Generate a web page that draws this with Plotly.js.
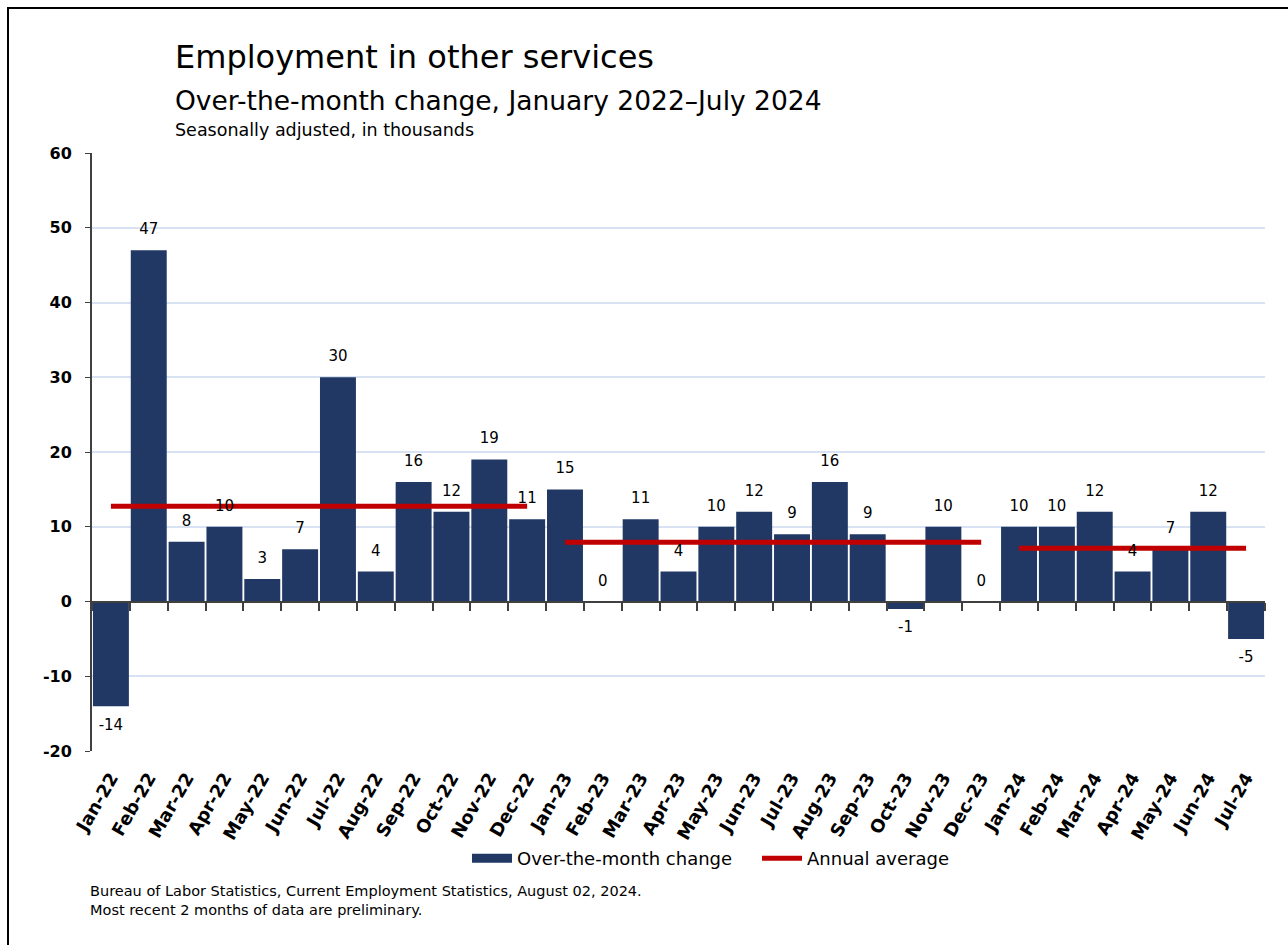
<!DOCTYPE html>
<html>
<head>
<meta charset="utf-8">
<script src="https://cdn.plot.ly/plotly-3.0.1.min.js"></script>
<style>
  html, body { margin: 0; padding: 0; background: #fff; }
  #chart { width: 1288px; height: 945px; }
  #frame { position: absolute; left: 7px; top: 7px; width: 1400px; height: 1100px;
           border-left: 2px solid #000; border-top: 2px solid #000; pointer-events: none; }
</style>
</head>
<body>
<div id="chart"></div>
<div id="frame"></div>
<script>
const months = ["Jan-22","Feb-22","Mar-22","Apr-22","May-22","Jun-22","Jul-22","Aug-22","Sep-22","Oct-22","Nov-22","Dec-22",
                "Jan-23","Feb-23","Mar-23","Apr-23","May-23","Jun-23","Jul-23","Aug-23","Sep-23","Oct-23","Nov-23","Dec-23",
                "Jan-24","Feb-24","Mar-24","Apr-24","May-24","Jun-24","Jul-24"];
const changes = [-14,47,8,10,3,7,30,4,16,12,19,11,
                 15,0,11,4,10,12,9,16,9,-1,10,0,
                 10,10,12,4,7,12,-5];
const yearStart = ["Jan-22","Jan-23","Jan-24"];
const yearEnd = ["Dec-22","Dec-23","Jul-24"];
const annualAvg = [12.75, 7.92, 7.14];
const yTicks = [-20,-10,0,10,20,30,40,50,60];

const SANS = "'DejaVu Sans', sans-serif";
const NAVY = '#213864';
const RED = '#c00000';
const yMin = -20, yMax = 60;

const traces = [];
// legend swatch for the bars (wide rectangle); drawn on a hidden axis so only the legend shows
traces.push({type: 'scatter', mode: 'lines', x: months, y: changes, yaxis: 'y3',
             name: 'Over-the-month change', line: {color: NAVY, width: 9}, hoverinfo: 'skip'});
traces.push({
  type: 'bar', x: months, y: changes, name: 'Over-the-month change', showlegend: false,
  marker: {color: NAVY}, hoverinfo: 'x+y'
});
for (let i = 0; i < annualAvg.length; i++) {
  traces.push({
    type: 'scatter', mode: 'lines', x: [yearStart[i], yearEnd[i]], y: [annualAvg[i], annualAvg[i]],
    name: 'Annual average', legendgroup: 'avg', showlegend: i === 0,
    line: {color: RED, width: 5}
  });
}
// value labels
traces.push({
  type: 'scatter', mode: 'markers+text', x: months, y: changes, showlegend: false, hoverinfo: 'skip',
  marker: {size: 18, opacity: 0, color: NAVY},
  text: changes.map(String),
  textposition: changes.map(v => v < 0 ? 'bottom center' : 'top center'),
  textfont: {family: SANS, size: 15, color: '#000'}, cliponaxis: false
});
// axis at zero with boundary ticks
traces.push({type: 'scatter', mode: 'none', x: months, y: changes, xaxis: 'x2',
             showlegend: false, hoverinfo: 'skip'});

const layout = {
  width: 1288, height: 945,
  margin: {l: 92, r: 23, t: 153, b: 194},
  paper_bgcolor: '#fff', plot_bgcolor: '#fff',
  font: {family: SANS, color: '#000'},
  bargap: 0.05,
  showlegend: true,
  legend: {orientation: 'h', x: 0.3197, xanchor: 'left', y: -0.18, yanchor: 'middle',
           font: {family: SANS, size: 18}, traceorder: 'normal', itemwidth: 40,
           entrywidth: 235, entrywidthmode: 'pixels'},
  xaxis: {type: 'category', range: [-0.5, months.length - 0.5], tickangle: -60,
          showline: false, showgrid: false, ticks: '', zeroline: false, ticklabelstandoff: 12,
          tickfont: {family: SANS, size: 18, weight: 'bold'}},
  xaxis2: {type: 'category', overlaying: 'x', anchor: 'free', side: 'bottom',
           position: (0 - yMin) / (yMax - yMin),
           range: [-0.5, months.length - 0.5], showticklabels: false, showgrid: false,
           showline: true, linecolor: '#404040', linewidth: 2,
           ticks: 'outside', tickson: 'boundaries', ticklen: 8, tickcolor: '#404040', tickwidth: 1.5,
           zeroline: false},
  yaxis: {range: [yMin, yMax], tickvals: yTicks, ticktext: yTicks.map(String),
          showline: true, linecolor: '#404040', linewidth: 2, ticks: 'outside', ticklen: 5,
          tickcolor: '#404040', ticklabelstandoff: 10, showgrid: true, gridcolor: '#d9e2f3', gridwidth: 1.5,
          zeroline: false, tickfont: {family: SANS, size: 16, weight: 'bold'}},
  yaxis3: {overlaying: 'y', range: [1000, 2000], visible: false},
  annotations: [
    {xref: 'paper', yref: 'paper', x: 0.069, y: 1.161, xanchor: 'left', yanchor: 'middle',
     text: 'Employment in other services', showarrow: false, font: {family: SANS, size: 32}},
    {xref: 'paper', yref: 'paper', x: 0.069, y: 1.087, xanchor: 'left', yanchor: 'middle',
     text: 'Over-the-month change, January 2022\u2013July 2024', showarrow: false, font: {family: SANS, size: 26.5}},
    {xref: 'paper', yref: 'paper', x: 0.069, y: 1.0385, xanchor: 'left', yanchor: 'middle',
     text: 'Seasonally adjusted, in thousands', showarrow: false, font: {family: SANS, size: 17.5}},
    {xref: 'paper', yref: 'paper', x: -0.003, y: -0.217, xanchor: 'left', yanchor: 'top', align: 'left',
     text: 'Bureau of Labor Statistics, Current Employment Statistics, August 02, 2024.<br>Most recent 2 months of data are preliminary.',
     showarrow: false, font: {family: SANS, size: 14.5}}
  ]
};

Plotly.newPlot('chart', traces, layout, {displayModeBar: false, responsive: false});
</script>
</body>
</html>
